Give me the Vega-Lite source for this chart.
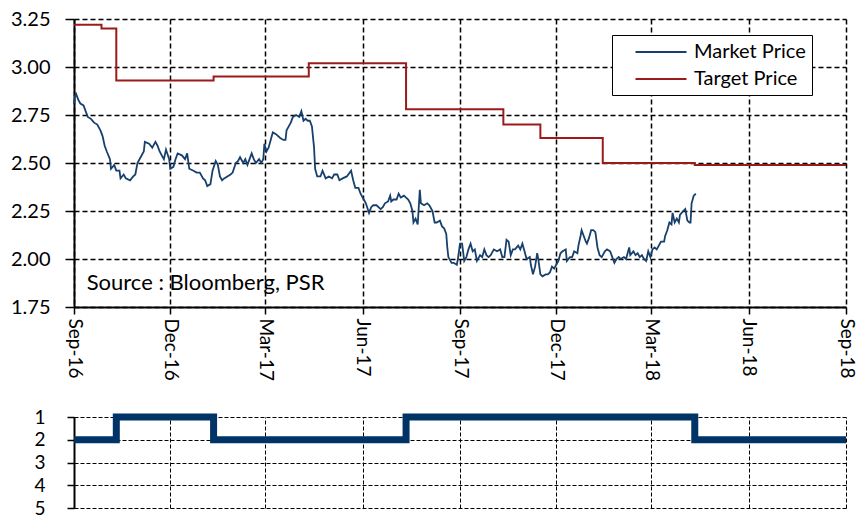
{
  "$schema": "https://vega.github.io/schema/vega-lite/v6.json",
  "background": "white",
  "padding": {"left": 10, "top": 9, "right": 10, "bottom": 2},
  "spacing": 22,
  "config": {
    "font": "Lato",
    "view": {"stroke": null},
    "axis": {
      "labelFont": "Lato",
      "labelColor": "black",
      "domainColor": "black",
      "tickColor": "black",
      "gridColor": "black",
      "gridOpacity": 1,
      "title": null
    }
  },
  "resolve": {"scale": {"x": "independent", "y": "independent", "color": "independent"}},
  "datasets": {
    "market": [
      {"d":"2016-09-01","p":2.81},{"d":"2016-09-02","p":2.85},{"d":"2016-09-03","p":2.86},{"d":"2016-09-05","p":2.83},
      {"d":"2016-09-07","p":2.81},{"d":"2016-09-10","p":2.80},{"d":"2016-09-12","p":2.77},{"d":"2016-09-14","p":2.74},
      {"d":"2016-09-17","p":2.73},{"d":"2016-09-20","p":2.71},{"d":"2016-09-23","p":2.70},{"d":"2016-09-26","p":2.67},
      {"d":"2016-09-28","p":2.64},{"d":"2016-09-30","p":2.59},{"d":"2016-10-02","p":2.56},{"d":"2016-10-05","p":2.52},
      {"d":"2016-10-06","p":2.47},{"d":"2016-10-09","p":2.49},{"d":"2016-10-11","p":2.46},{"d":"2016-10-14","p":2.46},
      {"d":"2016-10-15","p":2.42},{"d":"2016-10-18","p":2.44},{"d":"2016-10-20","p":2.42},{"d":"2016-10-24","p":2.41},
      {"d":"2016-10-27","p":2.43},{"d":"2016-10-29","p":2.44},{"d":"2016-10-31","p":2.50},{"d":"2016-11-03","p":2.53},
      {"d":"2016-11-06","p":2.56},{"d":"2016-11-07","p":2.61},{"d":"2016-11-11","p":2.60},{"d":"2016-11-14","p":2.58},
      {"d":"2016-11-17","p":2.61},{"d":"2016-11-19","p":2.59},{"d":"2016-11-21","p":2.56},{"d":"2016-11-23","p":2.54},
      {"d":"2016-11-25","p":2.52},{"d":"2016-11-27","p":2.57},{"d":"2016-11-30","p":2.52},{"d":"2016-12-01","p":2.47},
      {"d":"2016-12-04","p":2.48},{"d":"2016-12-06","p":2.52},{"d":"2016-12-08","p":2.55},{"d":"2016-12-12","p":2.54},
      {"d":"2016-12-15","p":2.52},{"d":"2016-12-17","p":2.55},{"d":"2016-12-19","p":2.47},{"d":"2016-12-23","p":2.46},
      {"d":"2016-12-26","p":2.45},{"d":"2016-12-29","p":2.45},{"d":"2017-01-01","p":2.42},{"d":"2017-01-03","p":2.41},
      {"d":"2017-01-05","p":2.38},{"d":"2017-01-08","p":2.39},{"d":"2017-01-10","p":2.46},{"d":"2017-01-13","p":2.51},
      {"d":"2017-01-15","p":2.49},{"d":"2017-01-17","p":2.43},{"d":"2017-01-19","p":2.41},{"d":"2017-01-21","p":2.42},
      {"d":"2017-01-24","p":2.43},{"d":"2017-01-27","p":2.44},{"d":"2017-01-29","p":2.45},{"d":"2017-02-01","p":2.50},
      {"d":"2017-02-03","p":2.51},{"d":"2017-02-05","p":2.53},{"d":"2017-02-08","p":2.50},{"d":"2017-02-10","p":2.52},
      {"d":"2017-02-12","p":2.49},{"d":"2017-02-14","p":2.52},{"d":"2017-02-16","p":2.55},{"d":"2017-02-18","p":2.52},
      {"d":"2017-02-20","p":2.50},{"d":"2017-02-23","p":2.52},{"d":"2017-02-25","p":2.50},{"d":"2017-02-27","p":2.52},
      {"d":"2017-02-28","p":2.60},{"d":"2017-03-02","p":2.56},{"d":"2017-03-04","p":2.58},{"d":"2017-03-06","p":2.62},
      {"d":"2017-03-08","p":2.66},{"d":"2017-03-11","p":2.65},{"d":"2017-03-15","p":2.63},{"d":"2017-03-18","p":2.62},
      {"d":"2017-03-20","p":2.62},{"d":"2017-03-21","p":2.67},{"d":"2017-03-22","p":2.68},{"d":"2017-03-25","p":2.71},
      {"d":"2017-03-27","p":2.74},{"d":"2017-03-30","p":2.75},{"d":"2017-04-02","p":2.74},{"d":"2017-04-04","p":2.77},
      {"d":"2017-04-06","p":2.72},{"d":"2017-04-08","p":2.73},{"d":"2017-04-10","p":2.72},{"d":"2017-04-12","p":2.72},
      {"d":"2017-04-14","p":2.69},{"d":"2017-04-16","p":2.58},{"d":"2017-04-17","p":2.47},{"d":"2017-04-19","p":2.43},
      {"d":"2017-04-22","p":2.43},{"d":"2017-04-24","p":2.46},{"d":"2017-04-27","p":2.42},{"d":"2017-04-30","p":2.43},
      {"d":"2017-05-03","p":2.42},{"d":"2017-05-05","p":2.44},{"d":"2017-05-08","p":2.44},{"d":"2017-05-10","p":2.41},
      {"d":"2017-05-13","p":2.42},{"d":"2017-05-17","p":2.43},{"d":"2017-05-21","p":2.46},{"d":"2017-05-23","p":2.41},
      {"d":"2017-05-25","p":2.37},{"d":"2017-05-28","p":2.37},{"d":"2017-05-30","p":2.34},{"d":"2017-06-02","p":2.31},
      {"d":"2017-06-04","p":2.29},{"d":"2017-06-07","p":2.24},{"d":"2017-06-09","p":2.27},{"d":"2017-06-11","p":2.28},
      {"d":"2017-06-14","p":2.28},{"d":"2017-06-18","p":2.26},{"d":"2017-06-20","p":2.27},{"d":"2017-06-22","p":2.29},
      {"d":"2017-06-25","p":2.30},{"d":"2017-06-27","p":2.33},{"d":"2017-06-28","p":2.30},{"d":"2017-06-30","p":2.31},
      {"d":"2017-07-03","p":2.31},{"d":"2017-07-05","p":2.34},{"d":"2017-07-07","p":2.32},{"d":"2017-07-10","p":2.33},
      {"d":"2017-07-12","p":2.32},{"d":"2017-07-14","p":2.31},{"d":"2017-07-16","p":2.29},{"d":"2017-07-18","p":2.25},
      {"d":"2017-07-19","p":2.19},{"d":"2017-07-21","p":2.21},{"d":"2017-07-23","p":2.18},{"d":"2017-07-25","p":2.36},
      {"d":"2017-07-26","p":2.29},{"d":"2017-07-29","p":2.28},{"d":"2017-08-01","p":2.29},{"d":"2017-08-03","p":2.28},
      {"d":"2017-08-06","p":2.25},{"d":"2017-08-08","p":2.19},{"d":"2017-08-10","p":2.19},{"d":"2017-08-13","p":2.20},
      {"d":"2017-08-15","p":2.17},{"d":"2017-08-17","p":2.16},{"d":"2017-08-19","p":2.13},{"d":"2017-08-20","p":2.06},
      {"d":"2017-08-21","p":2.01},{"d":"2017-08-24","p":1.98},{"d":"2017-08-26","p":1.98},{"d":"2017-08-29","p":1.97},
      {"d":"2017-08-30","p":2.00},{"d":"2017-09-01","p":2.08},{"d":"2017-09-03","p":2.08},{"d":"2017-09-05","p":1.99},
      {"d":"2017-09-07","p":2.01},{"d":"2017-09-09","p":2.05},{"d":"2017-09-11","p":2.08},{"d":"2017-09-13","p":2.04},
      {"d":"2017-09-15","p":2.05},{"d":"2017-09-17","p":1.99},{"d":"2017-09-20","p":2.02},{"d":"2017-09-22","p":2.01},
      {"d":"2017-09-24","p":2.05},{"d":"2017-09-26","p":2.02},{"d":"2017-09-28","p":2.01},{"d":"2017-09-30","p":2.02},
      {"d":"2017-10-03","p":2.05},{"d":"2017-10-06","p":2.04},{"d":"2017-10-09","p":2.05},{"d":"2017-10-11","p":2.01},
      {"d":"2017-10-13","p":2.01},{"d":"2017-10-15","p":2.10},{"d":"2017-10-17","p":2.09},{"d":"2017-10-19","p":2.02},
      {"d":"2017-10-21","p":2.05},{"d":"2017-10-23","p":2.05},{"d":"2017-10-26","p":2.07},{"d":"2017-10-28","p":2.05},
      {"d":"2017-10-30","p":2.08},{"d":"2017-11-01","p":2.04},{"d":"2017-11-03","p":2.00},{"d":"2017-11-06","p":2.01},
      {"d":"2017-11-07","p":1.97},{"d":"2017-11-09","p":1.92},{"d":"2017-11-11","p":1.96},{"d":"2017-11-13","p":2.03},
      {"d":"2017-11-14","p":2.00},{"d":"2017-11-16","p":1.92},{"d":"2017-11-18","p":1.91},{"d":"2017-11-21","p":1.92},
      {"d":"2017-11-23","p":1.92},{"d":"2017-11-25","p":1.93},{"d":"2017-11-27","p":1.96},{"d":"2017-11-29","p":1.95},
      {"d":"2017-12-01","p":1.97},{"d":"2017-12-03","p":1.99},{"d":"2017-12-05","p":2.03},{"d":"2017-12-07","p":2.04},
      {"d":"2017-12-10","p":2.05},{"d":"2017-12-11","p":1.99},{"d":"2017-12-14","p":2.01},{"d":"2017-12-16","p":2.01},
      {"d":"2017-12-18","p":2.04},{"d":"2017-12-21","p":2.03},{"d":"2017-12-22","p":2.07},{"d":"2017-12-24","p":2.12},
      {"d":"2017-12-25","p":2.15},{"d":"2017-12-27","p":2.12},{"d":"2017-12-29","p":2.09},{"d":"2017-12-30","p":2.08},
      {"d":"2018-01-01","p":2.11},{"d":"2018-01-03","p":2.15},{"d":"2018-01-05","p":2.15},{"d":"2018-01-07","p":2.14},
      {"d":"2018-01-09","p":2.06},{"d":"2018-01-11","p":2.02},{"d":"2018-01-13","p":2.01},{"d":"2018-01-16","p":2.04},
      {"d":"2018-01-18","p":2.05},{"d":"2018-01-21","p":2.04},{"d":"2018-01-23","p":2.01},{"d":"2018-01-25","p":1.98},
      {"d":"2018-01-27","p":2.00},{"d":"2018-01-29","p":2.01},{"d":"2018-01-31","p":2.00},{"d":"2018-02-03","p":2.01},
      {"d":"2018-02-05","p":2.00},{"d":"2018-02-08","p":2.06},{"d":"2018-02-09","p":2.02},{"d":"2018-02-12","p":2.04},
      {"d":"2018-02-14","p":2.02},{"d":"2018-02-16","p":2.03},{"d":"2018-02-18","p":2.01},{"d":"2018-02-20","p":2.02},
      {"d":"2018-02-22","p":2.00},{"d":"2018-02-24","p":1.99},{"d":"2018-02-26","p":2.04},{"d":"2018-02-28","p":2.01},
      {"d":"2018-03-02","p":2.05},{"d":"2018-03-04","p":2.06},{"d":"2018-03-06","p":2.05},{"d":"2018-03-08","p":2.07},
      {"d":"2018-03-10","p":2.09},{"d":"2018-03-13","p":2.09},{"d":"2018-03-14","p":2.12},{"d":"2018-03-16","p":2.15},
      {"d":"2018-03-18","p":2.19},{"d":"2018-03-20","p":2.18},{"d":"2018-03-21","p":2.24},{"d":"2018-03-23","p":2.19},
      {"d":"2018-03-25","p":2.21},{"d":"2018-03-27","p":2.19},{"d":"2018-03-28","p":2.23},{"d":"2018-03-31","p":2.25},
      {"d":"2018-04-02","p":2.26},{"d":"2018-04-04","p":2.20},{"d":"2018-04-06","p":2.19},{"d":"2018-04-07","p":2.19},
      {"d":"2018-04-08","p":2.29},{"d":"2018-04-10","p":2.33},{"d":"2018-04-12","p":2.34}
    ],
    "target": [
      {"d":"2016-09-01","p":3.22},{"d":"2016-09-27","p":3.20},{"d":"2016-10-11","p":2.93},
      {"d":"2017-01-11","p":2.95},{"d":"2017-04-11","p":3.02},{"d":"2017-07-12","p":2.78},
      {"d":"2017-10-12","p":2.70},{"d":"2017-11-16","p":2.63},{"d":"2018-01-14","p":2.50},
      {"d":"2018-04-11","p":2.49},{"d":"2018-09-01","p":2.49}
    ],
    "rating": [
      {"d":"2016-09-01","r":2},{"d":"2016-10-11","r":1},{"d":"2017-01-11","r":2},
      {"d":"2017-07-12","r":1},{"d":"2018-04-11","r":2},{"d":"2018-09-01","r":2}
    ]
  },
  "vconcat": [
    {
      "width": 772,
      "height": 288,
      "layer": [
        {
          "data": {"name": "market"},
          "mark": {"type": "line", "strokeWidth": 1.8, "interpolate": "linear"},
          "encoding": {
            "x": {
              "field": "d", "type": "temporal",
              "scale": {"type": "utc", "domain": [{"year":2016,"month":9,"date":1,"utc":true},{"year":2018,"month":9,"date":1,"utc":true}]},
              "axis": {
                "values": [
                  {"year":2016,"month":9,"date":1,"utc":true},{"year":2016,"month":12,"date":1,"utc":true},
                  {"year":2017,"month":3,"date":1,"utc":true},{"year":2017,"month":6,"date":1,"utc":true},
                  {"year":2017,"month":9,"date":1,"utc":true},{"year":2017,"month":12,"date":1,"utc":true},
                  {"year":2018,"month":3,"date":1,"utc":true},{"year":2018,"month":6,"date":1,"utc":true},
                  {"year":2018,"month":9,"date":1,"utc":true}
                ],
                "format": "%b-%y",
                "labelAngle": 90,
                "labelFontSize": 19,
                "labelPadding": 4,
                "labelOverlap": false,
                "labelFlush": false,
                "tickSize": 7,
                "tickWidth": 1.5,
                "domainWidth": 2,
                "gridDash": [5, 3],
                "gridWidth": 1.5
              }
            },
            "y": {
              "field": "p", "type": "quantitative",
              "scale": {"domain": [1.75, 3.25], "nice": false, "zero": false},
              "axis": {
                "values": [1.75, 2, 2.25, 2.5, 2.75, 3, 3.25],
                "format": ".2f",
                "labelFontSize": 20,
                "labelPadding": 15,
                "labelFlush": false,
                "tickSize": 9,
                "tickWidth": 1.5,
                "domainWidth": 2,
                "gridDash": [5, 3],
                "gridWidth": 1.5
              }
            },
            "color": {
              "datum": "Market Price",
              "scale": {"domain": ["Market Price", "Target Price"], "range": ["#17406D", "#9B1B1B"]},
              "legend": {
                "title": null,
                "orient": "none",
                "legendX": 538,
                "legendY": 16,
                "fillColor": "white",
                "strokeColor": "black",
                "padding": 6,
                "symbolOffset": 32,
                "labelFontSize": 20,
                "labelFont": "Lato",
                "labelColor": "black",
                "labelOffset": 22,
                "rowPadding": 6,
                "symbolType": "M-2.55,0H2.55",
                "symbolSize": 400,
                "symbolStrokeWidth": 2
              }
            }
          }
        },
        {
          "data": {"name": "target"},
          "mark": {"type": "line", "strokeWidth": 2, "interpolate": "step-after"},
          "encoding": {
            "x": {"field": "d", "type": "temporal"},
            "y": {"field": "p", "type": "quantitative"},
            "color": {"datum": "Target Price"}
          }
        },
        {
          "data": {"values": [{"label": "Source : Bloomberg, PSR"}]},
          "mark": {"type": "text", "align": "left", "baseline": "alphabetic", "fontSize": 22, "font": "Lato", "color": "black"},
          "encoding": {
            "x": {"datum": {"year":2016,"month":9,"date":13,"utc":true}, "type": "temporal"},
            "y": {"datum": 1.84, "type": "quantitative"},
            "text": {"field": "label"}
          }
        }
      ]
    },
    {
      "width": 772,
      "height": 91,
      "data": {"name": "rating"},
      "mark": {"type": "line", "interpolate": "step-after", "strokeWidth": 7, "color": "#003366"},
      "encoding": {
        "x": {
          "field": "d", "type": "temporal",
          "scale": {"type": "utc", "domain": [{"year":2016,"month":9,"date":1,"utc":true},{"year":2018,"month":9,"date":1,"utc":true}]},
          "axis": {
            "values": [
              {"year":2016,"month":9,"date":1,"utc":true},{"year":2016,"month":12,"date":1,"utc":true},
              {"year":2017,"month":3,"date":1,"utc":true},{"year":2017,"month":6,"date":1,"utc":true},
              {"year":2017,"month":9,"date":1,"utc":true},{"year":2017,"month":12,"date":1,"utc":true},
              {"year":2018,"month":3,"date":1,"utc":true},{"year":2018,"month":6,"date":1,"utc":true},
              {"year":2018,"month":9,"date":1,"utc":true}
            ],
            "labels": false,
            "ticks": false,
            "domain": false,
            "grid": true,
            "gridDash": [4, 2],
            "gridWidth": 1
          }
        },
        "y": {
          "field": "r", "type": "quantitative",
          "scale": {"domain": [1, 5], "reverse": true, "nice": false, "zero": false},
          "axis": {
            "values": [1, 2, 3, 4, 5],
            "labelFontSize": 19,
            "labelPadding": 22,
            "labelFlush": false,
            "tickSize": 7,
            "tickWidth": 1.5,
            "domainWidth": 2,
            "gridDash": [4, 2],
            "gridWidth": 1
          }
        }
      }
    }
  ]
}
